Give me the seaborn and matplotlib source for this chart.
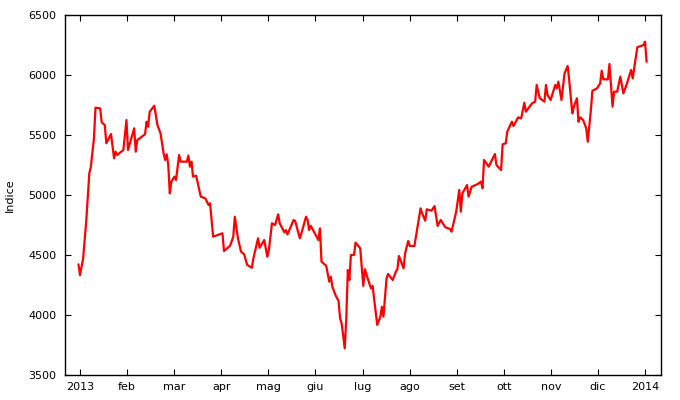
import pandas as pd
import numpy as np
import matplotlib
matplotlib.use("Agg")
import matplotlib.pyplot as plt
import matplotlib.dates as mdates
import seaborn as sns

# Index values (day offsets from base_date)
base_date = "2013-01-01"
day_offset = [
    -1, 0, 2, 4, 6, 7, 9, 10, 13, 14, 16, 17, 20, 22, 23, 24, 28, 30, 31, 35,
    36, 37, 42, 43, 44, 45, 48, 50, 52, 54, 55, 56, 57, 58, 59, 61, 62, 64, 65, 69,
    70, 71, 72, 73, 75, 78, 81, 83, 84, 86, 92, 93, 95, 97, 99, 100, 102, 104, 106, 108,
    111, 112, 113, 115, 116, 119, 121, 122, 124, 126, 128, 129, 132, 133, 134, 138, 139, 142, 143, 146,
    147, 148, 149, 154, 155, 156, 159, 161, 162, 163, 165, 167, 168, 169, 171, 172, 173, 174, 175, 177,
    178, 181, 182, 183, 184, 186, 187, 188, 189, 192, 194, 195, 196, 198, 199, 202, 204, 205, 206, 209,
    210, 212, 213, 216, 217, 220, 221, 223, 224, 227, 229, 231, 233, 236, 239, 240, 243, 245, 246, 247,
    250, 251, 253, 257, 259, 260, 261, 264, 268, 269, 271, 272, 273, 275, 276, 279, 280, 283, 285, 287,
    288, 292, 294, 295, 297, 300, 301, 302, 304, 307, 308, 309, 311, 313, 315, 316, 318, 319, 321, 322,
    323, 325, 327, 328, 330, 331, 334, 336, 337, 338, 341, 342, 344, 345, 347, 349, 351, 353, 356, 357,
    360, 364, 365, 366,
]
indice = [
    4422, 4333, 4472, 4778, 5181, 5236, 5472, 5728, 5722, 5606, 5583, 5431, 5508, 5306, 5361, 5333, 5375, 5625, 5375, 5556,
    5361, 5458, 5506, 5611, 5569, 5694, 5744, 5583, 5514, 5347, 5292, 5339, 5250, 5014, 5111, 5153, 5125, 5333, 5278, 5278,
    5328, 5236, 5278, 5153, 5161, 4986, 4972, 4917, 4931, 4653, 4681, 4533, 4556, 4578, 4653, 4819, 4639, 4528, 4506, 4417,
    4394, 4472, 4528, 4639, 4560, 4625, 4486, 4542, 4764, 4750, 4839, 4764, 4689, 4708, 4672, 4792, 4783, 4639, 4681, 4819,
    4792, 4708, 4744, 4625, 4722, 4444, 4411, 4278, 4319, 4236, 4167, 4117, 3972, 3931, 3722, 3972, 4375, 4292, 4500, 4500,
    4603, 4556, 4403, 4242, 4381, 4297, 4258, 4222, 4242, 3917, 3986, 4069, 3986, 4306, 4342, 4292, 4361, 4381, 4492, 4389,
    4514, 4617, 4575, 4575, 4653, 4889, 4847, 4786, 4881, 4869, 4908, 4742, 4792, 4731, 4717, 4694, 4861, 5042, 4861, 5014,
    5083, 4986, 5069, 5092, 5111, 5056, 5292, 5236, 5342, 5250, 5222, 5208, 5422, 5431, 5528, 5611, 5575, 5647, 5639, 5769,
    5694, 5764, 5778, 5917, 5806, 5778, 5917, 5833, 5792, 5917, 5889, 5944, 5792, 6014, 6075, 5958, 5681, 5736, 5806, 5611,
    5647, 5625, 5556, 5444, 5708, 5869, 5889, 5931, 6036, 5964, 5964, 6092, 5736, 5861, 5861, 5986, 5847, 5917, 6042, 5972,
    6231, 6250, 6278, 6110,
]
month_labels = ["2013", "feb", "mar", "apr", "mag", "giu", "lug",
                "ago", "set", "ott", "nov", "dic", "2014"]

df = pd.DataFrame({
    "data": pd.Timestamp(base_date) + pd.to_timedelta(day_offset, unit="D"),
    "indice": indice,
})

sns.set_style("ticks")
plt.rcParams["font.family"] = ["DejaVu Sans"]

fig = plt.figure(figsize=(6.8, 4), dpi=100)
ax = fig.add_axes([65 / 680, 25 / 400, 596 / 680, 360 / 400])
sns.lineplot(data=df, x="data", y="indice", color="#ff0000", linewidth=1.6, ax=ax)

# ticks are evenly spaced over the year (1/12 year apart)
start = mdates.date2num(pd.Timestamp(base_date))
tick_pos = start + np.arange(13) * 365 / 12
ax.set_xticks(tick_pos)
ax.set_xticklabels(month_labels)
ax.set_xlim(start - 9.7, start + 375.3)
ax.set_ylim(3500, 6500)
ax.set_yticks(range(3500, 6501, 500))

ax.tick_params(direction="in", top=True, right=True, length=4, width=0.8,
               labelsize=8, colors="black")
ax.tick_params(axis="y", pad=6)
ax.tick_params(axis="x", pad=5)
ax.set_xlabel("")
ax.set_ylabel("Indice", fontsize=8, labelpad=10, color="black")
for s in ax.spines.values():
    s.set_linewidth(1)
    s.set_color("black")

fig.savefig("out.png", dpi=100)
